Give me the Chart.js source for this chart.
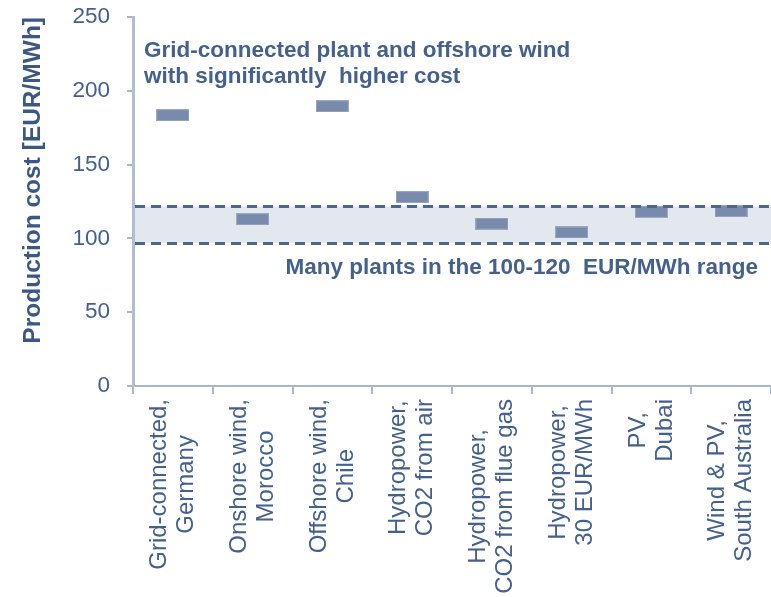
<!DOCTYPE html>
<html>
<head>
<meta charset="utf-8">
<style>
  html, body { margin: 0; padding: 0; background: #ffffff; }
  #wrap { width: 771px; height: 597px; }
</style>
<script src="https://cdn.jsdelivr.net/npm/chart.js@4"></script>
</head>
<body>
<div id="wrap"><canvas id="c" width="771" height="597"></canvas></div>
<script>
// Production cost per plant configuration (EUR/MWh)
const categories = [
  ["Grid-connected,", "Germany"],
  ["Onshore wind,", "Morocco"],
  ["Offshore wind,", "Chile"],
  ["Hydropower,", "CO2 from air"],
  ["Hydropower,", "CO2 from flue gas"],
  ["Hydropower,", "30 EUR/MWh"],
  ["PV,", "Dubai"],
  ["Wind & PV,", "South Australia"]
];
const costs = [183.5, 113, 189.5, 128, 110, 104, 118, 118.5];
const yTicks = [0, 50, 100, 150, 200, 250];
const bandRange = [97, 122];
const noteHigh = ["Grid-connected plant and offshore wind", "with significantly  higher cost"];
const noteBand = "Many plants in the 100-120  EUR/MWh range";

const FONT = "'Liberation Sans', Arial, sans-serif";
const TEXT = '#44608d';
const AXIS = '#a9b6ca';

// small horizontal bar used as the point marker
function makeMarker() {
  const cv = document.createElement('canvas');
  cv.width = 33; cv.height = 12;
  const g = cv.getContext('2d');
  g.fillStyle = '#9aa8c1';
  g.fillRect(0, 0, 33, 12);
  g.fillStyle = '#788bad';
  g.fillRect(1, 1, 31, 10);
  return cv;
}

const bandPlugin = {
  id: 'band',
  beforeDatasetsDraw(chart) {
    const { ctx, chartArea: a, scales: { y } } = chart;
    const yTop = y.getPixelForValue(bandRange[1]);
    const yBot = y.getPixelForValue(bandRange[0]);
    ctx.save();
    ctx.fillStyle = '#e3e8ef';
    ctx.fillRect(a.left + 2, yTop, a.right - a.left, yBot - yTop);
    ctx.restore();
  },
  afterDatasetsDraw(chart) {
    const { ctx, chartArea: a, scales: { y } } = chart;
    ctx.save();
    ctx.strokeStyle = '#4b6690';
    ctx.lineWidth = 3;
    ctx.setLineDash([10, 6]);
    bandRange.forEach(v => {
      const py = Math.round(y.getPixelForValue(v)) + 0.5;
      ctx.beginPath();
      ctx.moveTo(a.left + 2, py);
      ctx.lineTo(a.right + 1, py);
      ctx.stroke();
    });
    ctx.restore();
  }
};

const labelPlugin = {
  id: 'catLabels',
  afterDraw(chart) {
    const { ctx, scales: { x } } = chart;
    const lineH = 27;
    const top = chart.chartArea.bottom + 13;
    ctx.save();
    ctx.font = '24px ' + FONT;
    ctx.fillStyle = TEXT;
    ctx.textBaseline = 'middle';
    ctx.textAlign = 'center';
    categories.forEach((lines, i) => {
      const cx = x.getPixelForValue(i);
      const w = Math.max(...lines.map(l => ctx.measureText(l).width));
      ctx.save();
      ctx.translate(cx, top);
      ctx.rotate(-Math.PI / 2);
      lines.forEach((l, j) => {
        ctx.fillText(l, -w / 2, (j - (lines.length - 1) / 2) * lineH);
      });
      ctx.restore();
    });

    // notes
    ctx.font = 'bold 22.5px ' + FONT;
    ctx.textBaseline = 'alphabetic';
    ctx.textAlign = 'left';
    ctx.fillText(noteHigh[0], 144, 57);
    ctx.fillText(noteHigh[1], 144, 83);
    ctx.textAlign = 'right';
    ctx.fillText(noteBand, 758, 274);
    ctx.restore();
  }
};

new Chart(document.getElementById('c'), {
  type: 'line',
  data: {
    labels: categories,
    datasets: [{
      data: costs,
      showLine: false,
      pointStyle: makeMarker(),
      pointRadius: 6,
      pointHoverRadius: 6
    }]
  },
  options: {
    responsive: false,
    animation: false,
    events: [],
    layout: { autoPadding: false, padding: { top: 17, right: 0, bottom: 0, left: 0 } },
    plugins: { legend: { display: false }, tooltip: { enabled: false } },
    scales: {
      x: {
        type: 'category',
        offset: true,
        grid: { display: true, offset: true, drawOnChartArea: false, tickLength: 8, color: AXIS, lineWidth: 2 },
        border: { color: AXIS, width: 2 },
        ticks: { display: false, autoSkip: false },
        afterFit(scale) {
          scale.height = 211;
          scale.paddingLeft = 0; scale.paddingRight = 0;
        }
      },
      y: {
        min: 0,
        max: 250,
        afterBuildTicks(scale) { scale.ticks = yTicks.map(v => ({ value: v })); },
        grid: { drawOnChartArea: false, tickLength: 6, color: AXIS, lineWidth: 2 },
        border: { color: '#b2bdd0', width: 3 },
        ticks: { padding: 17, color: TEXT, font: { size: 22.5, family: FONT } },
        title: {
          display: true,
          text: 'Production cost [EUR/MWh]',
          align: 'end',
          color: '#3c5785',
          font: { size: 24.5, weight: 'bold', family: FONT },
          padding: { top: 19, bottom: 0 }
        },
        afterFit(scale) {
          scale.width = 133;
          scale.paddingTop = 0; scale.paddingBottom = 0;
        }
      }
    }
  },
  plugins: [bandPlugin, labelPlugin]
});
</script>
</body>
</html>
